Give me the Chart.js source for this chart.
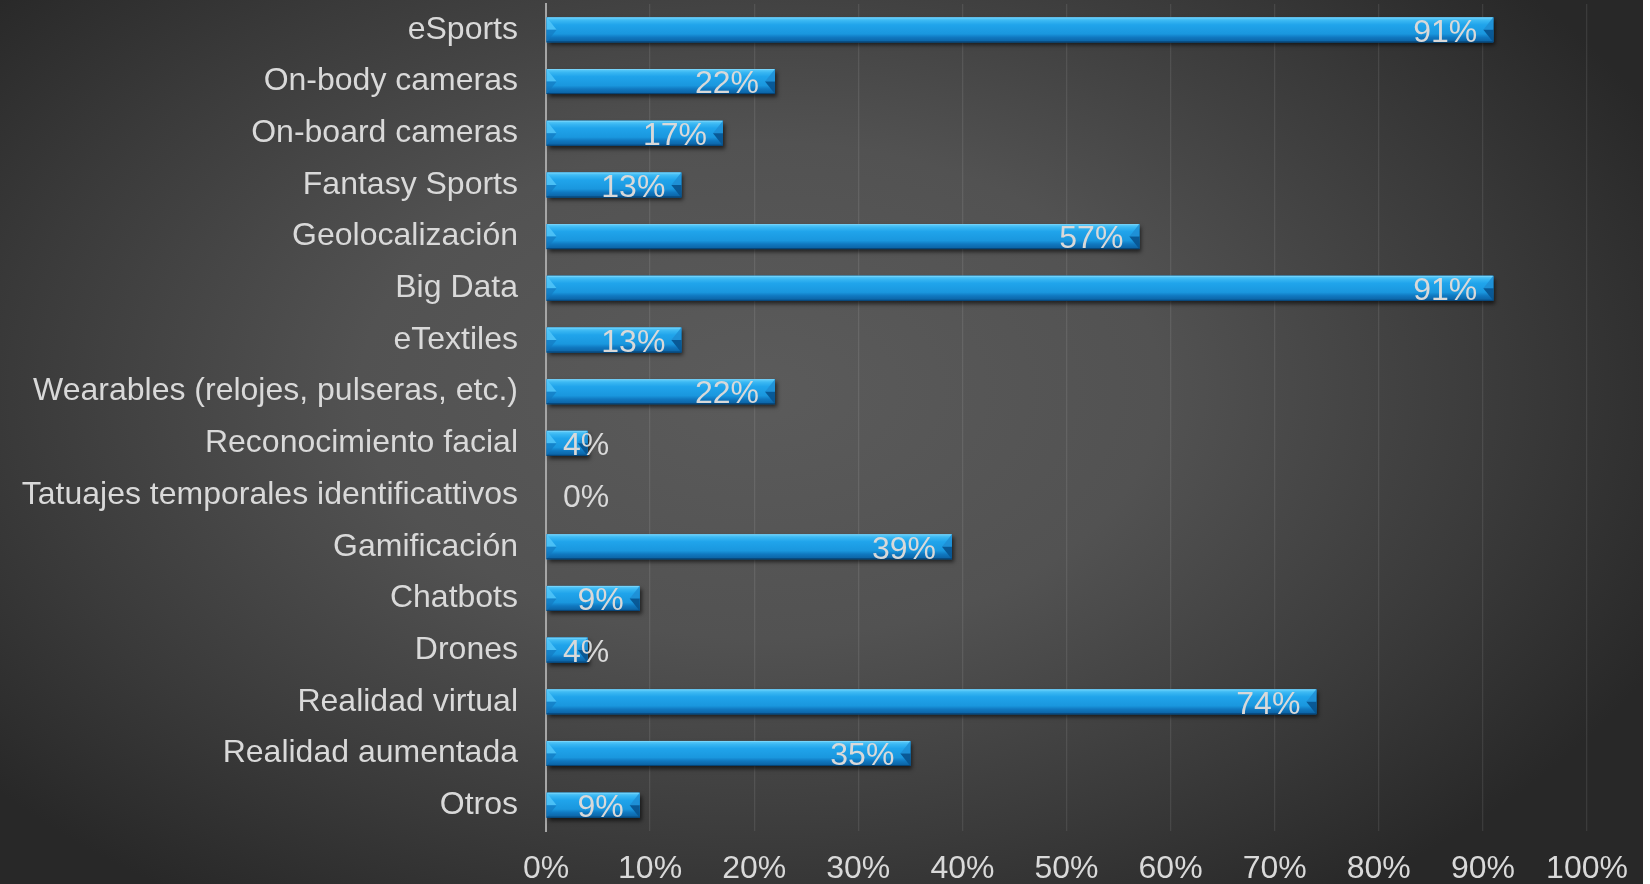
<!DOCTYPE html>
<html lang="es">
<head>
<meta charset="utf-8">
<title>Tecnologías en el deporte</title>
<script src="https://cdn.jsdelivr.net/npm/chart.js@4.4.1/dist/chart.umd.min.js"></script>
<style>
  html, body { margin: 0; padding: 0; background: #ffffff; }
  #wrap { width: 1643px; height: 884px; }
  canvas { display: block; }
</style>
</head>
<body>
<div id="wrap"><canvas id="chart" width="1643" height="884"></canvas></div>
<script>
// Technologies (top to bottom) and share of responses, in percent
const categories = [
  'eSports',
  'On-body cameras',
  'On-board cameras',
  'Fantasy Sports',
  'Geolocalización',
  'Big Data',
  'eTextiles',
  'Wearables (relojes, pulseras, etc.)',
  'Reconocimiento facial',
  'Tatuajes temporales identificattivos',
  'Gamificación',
  'Chatbots',
  'Drones',
  'Realidad virtual',
  'Realidad aumentada',
  'Otros'
];
const values = [91, 22, 17, 13, 57, 91, 13, 22, 4, 0, 39, 9, 4, 74, 35, 9];
const xTickValues = [0, 10, 20, 30, 40, 50, 60, 70, 80, 90, 100];
const xTickLabels = ['0%', '10%', '20%', '30%', '40%', '50%', '60%', '70%', '80%', '90%', '100%'];

const FONT = '"Liberation Sans", Arial, Helvetica, sans-serif';
const FONT_SIZE = 32;
const TEXT_COLOR = '#d9d9d9';

// Dark radial backdrop behind the whole chart
const backdrop = {
  id: 'backdrop',
  beforeDraw(chart) {
    const { ctx, width, height } = chart;
    ctx.save();
    const cx = 760, cy = 390, sx = 1.0, sy = 0.62;
    ctx.translate(cx, cy);
    ctx.scale(sx, sy);
    const g = ctx.createRadialGradient(0, 0, 0, 0, 0, 1000);
    g.addColorStop(0, '#5b5b5b');
    g.addColorStop(0.4, '#525252');
    g.addColorStop(0.75, '#3a3a3a');
    g.addColorStop(1, '#282828');
    ctx.fillStyle = g;
    ctx.fillRect(-cx / sx, -cy / sy, width / sx, height / sy);
    ctx.restore();
  }
};

// Beveled, shadowed bar faces drawn over each bar element
const bevelBars = {
  id: 'bevelBars',
  afterDatasetsDraw(chart) {
    const { ctx } = chart;
    const meta = chart.getDatasetMeta(0);
    meta.data.forEach((el) => {
      const p = el.getProps(['x', 'y', 'base', 'height'], true);
      const l = Math.min(p.x, p.base), r = Math.max(p.x, p.base);
      const w = r - l;
      if (w < 1) return;
      const t = p.y - p.height / 2, b = p.y + p.height / 2, h = p.height;
      const yc = p.y;

      // drop shadow
      ctx.save();
      ctx.shadowColor = 'rgba(0,0,0,0.6)';
      ctx.shadowBlur = 4;
      ctx.shadowOffsetX = 2;
      ctx.shadowOffsetY = 3;
      ctx.fillStyle = '#0b5e9f';
      ctx.fillRect(l, t, w, h);
      ctx.restore();

      ctx.save();
      // body
      const g = ctx.createLinearGradient(0, t, 0, b);
      g.addColorStop(0, '#5fcdfa');
      g.addColorStop(0.14, '#38b6f2');
      g.addColorStop(0.3, '#20a4eb');
      g.addColorStop(0.66, '#1a97de');
      g.addColorStop(0.8, '#1078c0');
      g.addColorStop(1, '#0b5f9f');
      ctx.fillStyle = g;
      ctx.fillRect(l, t, w, h);

      const bv = Math.min(10, w / 2);
      // left bevel: lit upper half, shaded lower half
      ctx.beginPath();
      ctx.moveTo(l, t); ctx.lineTo(l + bv, yc); ctx.lineTo(l, yc); ctx.closePath();
      ctx.fillStyle = 'rgba(85,200,250,0.8)';
      ctx.fill();
      ctx.beginPath();
      ctx.moveTo(l, yc); ctx.lineTo(l + bv, yc); ctx.lineTo(l, b); ctx.closePath();
      ctx.fillStyle = 'rgba(18,120,190,0.65)';
      ctx.fill();
      // right bevel: lit upper corner, dark lower face
      ctx.beginPath();
      ctx.moveTo(r, t); ctx.lineTo(r - bv, yc); ctx.lineTo(r, yc); ctx.closePath();
      ctx.fillStyle = 'rgba(30,140,210,0.8)';
      ctx.fill();
      ctx.beginPath();
      ctx.moveTo(r, yc); ctx.lineTo(r - bv, yc); ctx.lineTo(r, b); ctx.closePath();
      ctx.fillStyle = 'rgba(8,85,145,0.95)';
      ctx.fill();
      // thin top highlight and bottom edge
      ctx.fillStyle = 'rgba(150,225,255,0.5)';
      ctx.fillRect(l + 1, t, w - 2, 1);
      ctx.fillStyle = 'rgba(5,55,100,0.7)';
      ctx.fillRect(l, b - 1, w, 1);
      ctx.restore();
    });
  }
};

// Percentage labels at the inner end of each bar
const valueLabels = {
  id: 'valueLabels',
  afterDatasetsDraw(chart) {
    const { ctx } = chart;
    const meta = chart.getDatasetMeta(0);
    const axisX = chart.scales.x.getPixelForValue(0);
    ctx.save();
    ctx.font = FONT_SIZE + 'px ' + FONT;
    ctx.fillStyle = TEXT_COLOR;
    ctx.textAlign = 'right';
    ctx.textBaseline = 'middle';
    meta.data.forEach((el, i) => {
      const p = el.getProps(['x', 'y'], true);
      const txt = values[i] + '%';
      const tw = ctx.measureText(txt).width;
      const x = Math.max(p.x - 16, axisX + 17 + tw);
      ctx.fillText(txt, x, p.y + 3);
    });
    ctx.restore();
  }
};

new Chart(document.getElementById('chart'), {
  type: 'bar',
  data: {
    labels: categories,
    datasets: [{
      data: values,
      backgroundColor: '#1a96dd',
      borderWidth: 0,
      barPercentage: 0.484,
      categoryPercentage: 1
    }]
  },
  options: {
    indexAxis: 'y',
    responsive: false,
    animation: false,
    events: [],
    layout: { padding: { top: 4, right: 56, bottom: 0, left: 0 } },
    plugins: {
      legend: { display: false },
      tooltip: { enabled: false },
      title: { display: false }
    },
    scales: {
      x: {
        type: 'linear',
        min: 0,
        max: 100,
        afterBuildTicks(scale) {
          scale.ticks = xTickValues.map(v => ({ value: v }));
        },
        afterFit(scale) {
          scale.height = 53;
          scale.paddingLeft = 0;
          scale.paddingRight = 0;
        },
        grid: {
          color: 'rgba(255,255,255,0.09)',
          lineWidth: 1.3,
          drawTicks: false
        },
        border: { display: false },
        ticks: {
          padding: 19,
          color: TEXT_COLOR,
          font: { family: FONT, size: FONT_SIZE },
          maxRotation: 0,
          callback: (v) => xTickLabels[xTickValues.indexOf(v)]
        }
      },
      y: {
        afterFit(scale) {
          scale.width = 546;
          scale.paddingTop = 0;
          scale.paddingBottom = 0;
        },
        grid: { display: false, drawTicks: false },
        border: { display: true, color: '#a6a6a6', width: 2 },
        ticks: {
          padding: 28,
          color: TEXT_COLOR,
          font: { family: FONT, size: FONT_SIZE },
          autoSkip: false
        }
      }
    }
  },
  plugins: [backdrop, bevelBars, valueLabels]
});
</script>
</body>
</html>
